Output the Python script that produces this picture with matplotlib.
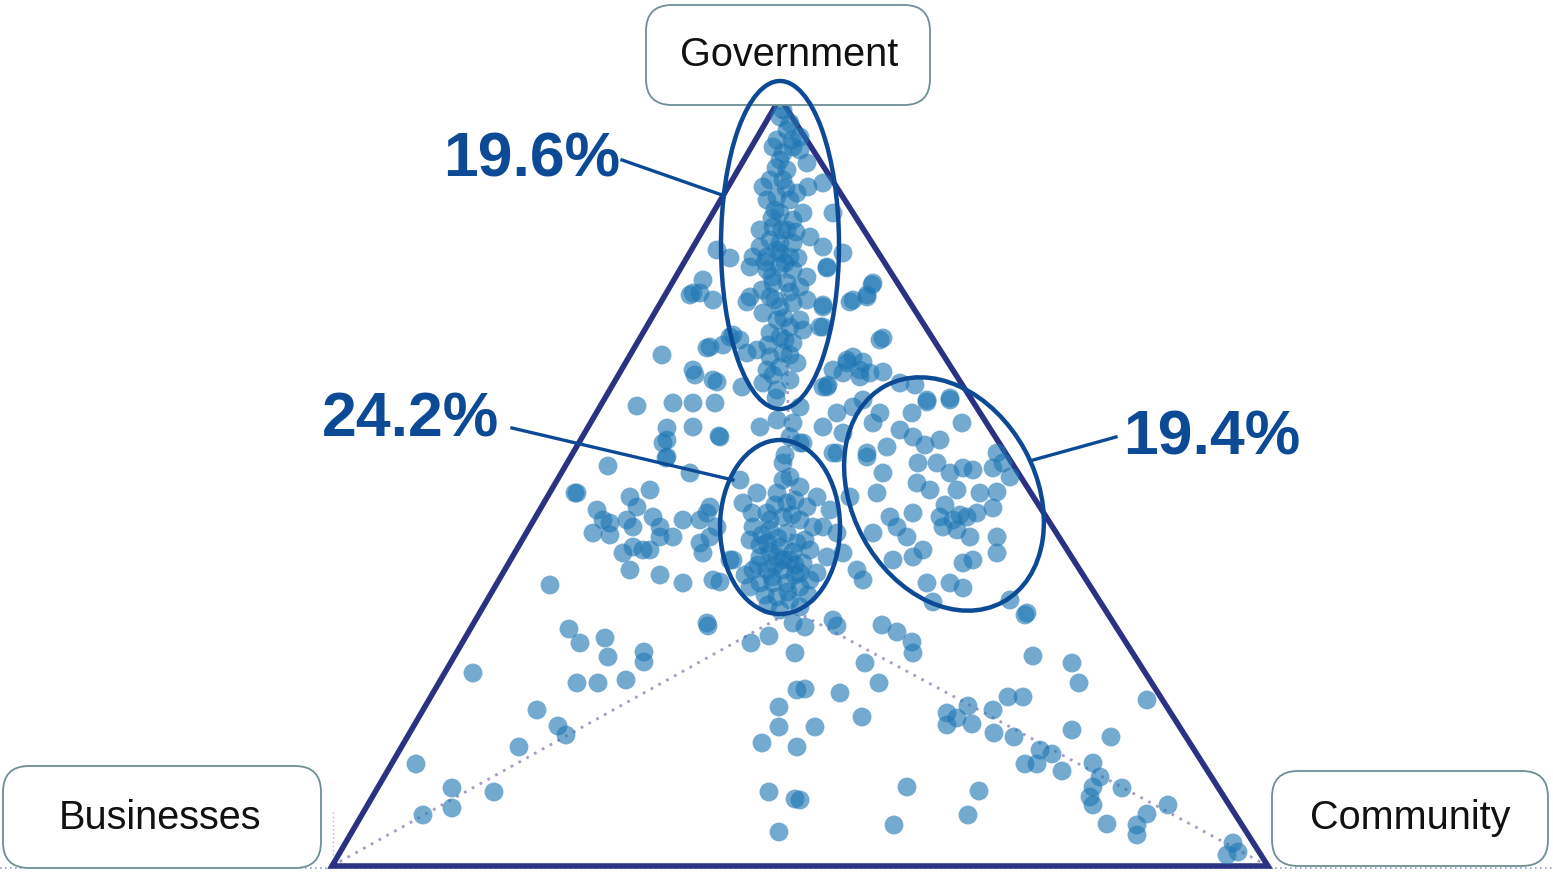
import matplotlib.pyplot as plt
import numpy as np
from matplotlib.patches import Ellipse, FancyBboxPatch, Polygon

plt.rcParams["font.family"] = ["Liberation Sans", "DejaVu Sans"]

# corners of the ternary frame (Government on top, Businesses left, Community right)
corner_labels = ["Government", "Businesses", "Community"]
corner_x = [780, 332, 1268]
corner_y = [98, 866, 866]

share_labels = ["19.6%", "24.2%", "19.4%"]

# respondent positions (x right, y down)
gov_pts = [
    (780, 117), (787, 130), (777, 140), (793, 147), (800, 150), (780, 160), (787, 170),
    (773, 147), (807, 163), (770, 180), (783, 180), (763, 187), (808, 187), (823, 183),
    (777, 197), (790, 200), (767, 200), (780, 213), (793, 220), (803, 213), (833, 213),
    (773, 227), (787, 230), (770, 240), (780, 243), (760, 247), (793, 243), (810, 237),
    (823, 247), (753, 257), (767, 257), (780, 253), (790, 257), (750, 267), (767, 270),
    (780, 267), (793, 270), (807, 277), (827, 267), (717, 250), (730, 258), (773, 283),
    (787, 283), (800, 287), (750, 297), (770, 297), (780, 307), (793, 303), (807, 300),
    (823, 307), (763, 313), (777, 320), (790, 327), (770, 333), (780, 337), (793, 343),
    (823, 327), (757, 350), (770, 357), (783, 353), (797, 363), (767, 370), (780, 367),
    (763, 383), (777, 390), (790, 380), (740, 340), (747, 353), (730, 337), (790, 123),
    (800, 137), (783, 153), (797, 193), (775, 210), (760, 230), (785, 263), (775, 300),
    (800, 320), (785, 340), (773, 375), (783, 110), (792, 140), (776, 168), (786, 188),
    (772, 218), (796, 232), (777, 250), (765, 262), (798, 258), (772, 277), (790, 292),
    (784, 318), (768, 345), (790, 355), (776, 398), (762, 290), (803, 330), (782, 230),
]

upper_pts = [
    (710, 347), (703, 280), (693, 293), (713, 300), (693, 370), (713, 380), (843, 253),
    (853, 300), (867, 297), (873, 283), (823, 387), (833, 370), (847, 363), (860, 370),
    (870, 373), (690, 295), (700, 293), (747, 302), (662, 355), (707, 348), (723, 345),
    (733, 335), (695, 375), (717, 382), (742, 387), (637, 406), (673, 403), (693, 403),
    (715, 403), (667, 428), (693, 427), (667, 440), (719, 436), (666, 458), (608, 466),
    (690, 473), (760, 427), (777, 420), (793, 423), (800, 407), (790, 437), (803, 443),
    (827, 387), (820, 327), (823, 305), (850, 302), (867, 295), (872, 285), (847, 360),
    (853, 357), (863, 362), (843, 373), (860, 377), (837, 413), (823, 427), (833, 453),
    (843, 433), (853, 407), (880, 340), (867, 453), (883, 338), (827, 268), (883, 372),
    (828, 385), (900, 383), (915, 385), (927, 400), (950, 398),
]

comm_pts = [
    (927, 402), (950, 400), (962, 423), (912, 413), (880, 413), (873, 423), (900, 430),
    (913, 437), (887, 447), (867, 457), (940, 440), (918, 463), (937, 463), (950, 473),
    (963, 468), (973, 470), (993, 468), (883, 473), (917, 483), (930, 490), (957, 490),
    (980, 493), (997, 492), (877, 493), (913, 513), (940, 517), (953, 520), (967, 517),
    (977, 513), (943, 527), (957, 530), (970, 537), (890, 517), (897, 527), (907, 537),
    (873, 533), (923, 550), (893, 560), (913, 557), (963, 563), (973, 560), (997, 537),
    (997, 553), (993, 508), (1010, 477), (997, 453), (1003, 463), (927, 583), (950, 583),
    (963, 588), (933, 602), (1010, 600), (1027, 613), (850, 497), (857, 570), (863, 580),
    (843, 553), (837, 533), (837, 453), (863, 400), (945, 505), (960, 515), (925, 445),
]

core_pts = [
    (720, 437), (740, 480), (757, 493), (743, 503), (783, 463), (790, 477), (800, 487),
    (777, 493), (787, 503), (807, 507), (817, 497), (767, 513), (783, 517), (800, 520),
    (813, 527), (753, 527), (770, 530), (787, 533), (750, 540), (767, 543), (780, 547),
    (797, 543), (810, 550), (760, 557), (777, 557), (790, 560), (803, 563), (753, 570),
    (767, 570), (783, 570), (800, 573), (817, 573), (760, 583), (773, 583), (787, 583),
    (800, 587), (777, 597), (790, 600), (780, 610), (800, 607), (733, 560), (750, 587),
    (827, 557), (823, 527), (830, 510), (800, 443), (707, 513), (710, 537), (713, 580),
    (707, 623), (833, 620), (793, 623), (770, 520), (760, 545), (775, 565), (795, 575),
    (765, 595), (785, 455), (795, 500), (775, 505), (792, 515), (762, 535), (778, 538),
    (793, 552), (770, 552), (783, 560), (758, 565), (795, 565), (772, 577), (788, 592),
    (768, 605), (808, 595), (805, 540), (752, 513), (783, 480), (810, 580), (745, 575),
]

left_pts = [
    (577, 493), (597, 510), (603, 520), (610, 523), (593, 533), (610, 535), (630, 497),
    (637, 507), (650, 490), (627, 520), (633, 527), (653, 517), (660, 527), (660, 537),
    (673, 537), (683, 520), (700, 520), (710, 507), (717, 527), (623, 553), (633, 547),
    (643, 550), (650, 550), (700, 543), (703, 553), (630, 570), (660, 575), (683, 583),
    (720, 582), (667, 457), (663, 443), (730, 560), (550, 585), (575, 493),
]

lower_pts = [
    (569, 629), (580, 643), (605, 638), (608, 657), (644, 652), (644, 662), (473, 673),
    (577, 683), (598, 683), (626, 680), (708, 626), (751, 643), (769, 636), (795, 653),
    (537, 710), (558, 726), (566, 735), (519, 747), (416, 764), (452, 788), (494, 792),
    (423, 815), (452, 808), (779, 707), (779, 727), (762, 743), (797, 747), (769, 792),
    (795, 799), (779, 832), (797, 690), (837, 626), (882, 625), (897, 632), (912, 642),
    (913, 653), (805, 627), (865, 663), (879, 683), (805, 689), (840, 693), (862, 717),
    (815, 727), (1025, 615), (1033, 656), (1072, 663), (1079, 683), (1147, 700),
    (1008, 697), (1023, 697), (968, 706), (947, 713), (947, 725), (957, 718), (972, 724),
    (993, 710), (994, 733), (1014, 737), (1072, 730), (1111, 737), (1040, 750),
    (1052, 754), (1025, 764), (1037, 764), (1062, 771), (1093, 763), (1100, 777),
    (1093, 787), (1090, 797), (1093, 805), (1122, 788), (1168, 805), (1147, 814),
    (1137, 825), (1137, 835), (1107, 824), (907, 787), (979, 791), (968, 815), (894, 825),
    (800, 800), (1233, 843), (1227, 855), (1238, 852),
]

all_pts = np.array(gov_pts + upper_pts + comm_pts + core_pts + left_pts + lower_pts)

fig = plt.figure(figsize=(15.53, 8.75), dpi=100)
ax = fig.add_axes([0, 0, 1, 1])
ax.set_xlim(0, 1553)
ax.set_ylim(875, 0)
ax.set_aspect("equal")
ax.axis("off")

# faint dotted baseline and guides to the centroid
ax.plot([0, 1553], [868, 868], ls=(0, (1, 2)), color="#9aa0c8", lw=1.2, zorder=1)
ax.plot([333, 333], [812, 868], ls=(0, (1, 2)), color="#b0b4d8", lw=1.0, zorder=1)
cx, cy = np.mean(corner_x), np.mean(corner_y)
for vx, vy in zip(corner_x, corner_y):
    ax.plot([vx, cx], [vy, cy], ls=(0, (1, 2.2)), color="#a89cc4", lw=2.0, zorder=1)

ax.add_patch(Polygon(np.column_stack([corner_x, corner_y]), closed=True, fill=False,
                     edgecolor="#2b3284", lw=4.0, joinstyle="miter", zorder=2))

ax.scatter(all_pts[:, 0], all_pts[:, 1], s=185, color="#1f77b4", alpha=0.62,
           edgecolors="none", zorder=3)

# corner label boxes
boxes = [(646, 5, 284, 100), (3, 766, 318, 102), (1272, 771, 276, 95)]
text_pos = [(789, 55), (160, 818), (1410, 818)]
for (bx, by, bw, bh), (tx, ty), lab in zip(boxes, text_pos, corner_labels):
    ax.add_patch(FancyBboxPatch((bx, by), bw, bh, boxstyle="round,pad=0,rounding_size=26",
                                facecolor="white", edgecolor="#6f8f96", lw=1.3, zorder=4))
    ax.text(tx, ty, lab, fontsize=28.5, color="#111111", ha="center", va="center", zorder=5)

# highlighted clusters
navy = "#0d4a96"
ax.add_patch(Ellipse((780, 245), 118, 328, fill=False, edgecolor=navy, lw=3.2, zorder=6))
ax.add_patch(Ellipse((780, 527), 120, 174, fill=False, edgecolor=navy, lw=3.2, zorder=6))
ax.add_patch(Ellipse((944, 494), 246, 184, angle=61.5, fill=False, edgecolor=navy, lw=3.2,
                     zorder=6))

label_xy = [(532, 160), (411, 420), (1212, 438)]
line_ends = [((622, 160), (722, 195)), ((512, 428), (733, 480)), ((1116, 437), (1033, 460))]
for (tx, ty), lab, (p0, p1) in zip(label_xy, share_labels, line_ends):
    ax.text(tx, ty, lab, fontsize=45, fontweight="bold", color=navy, ha="center",
            va="center", zorder=7)
    ax.plot([p0[0], p1[0]], [p0[1], p1[1]], color=navy, lw=2.4, zorder=6)

fig.savefig("out.png", dpi=100)
